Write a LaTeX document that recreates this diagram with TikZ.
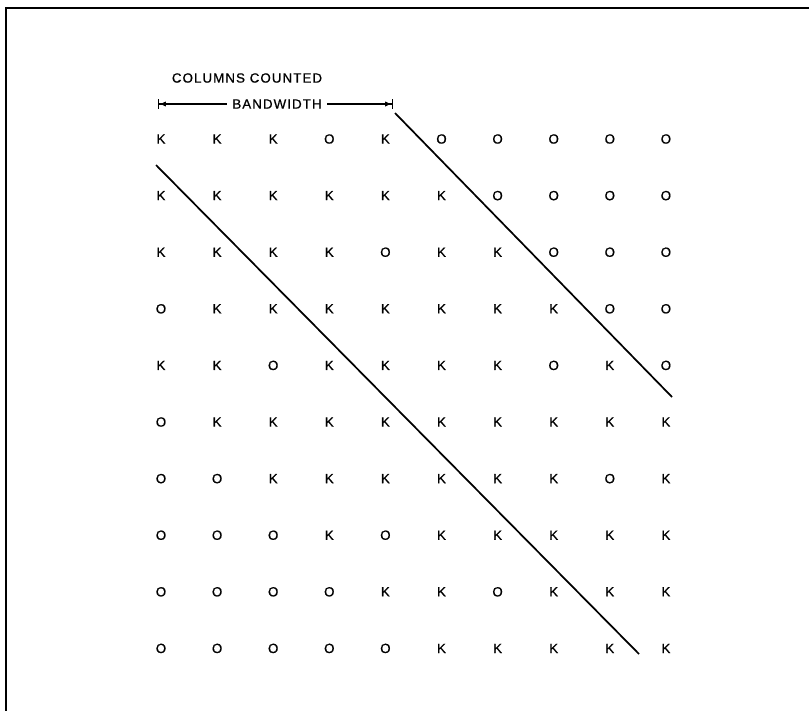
\documentclass[tikz,border=0pt]{standalone}
\usepackage{fontspec}
\setmainfont{Liberation Sans}
\usetikzlibrary{arrows.meta}
\begin{document}
\begin{tikzpicture}[x=0.75pt,y=-0.75pt,
  cell/.style={font=\fontsize{10}{12}\selectfont\addfontfeature{FakeBold=0.8}, inner sep=0pt, anchor=center},
  hdr/.style={font=\fontsize{10}{12}\selectfont\addfontfeature{LetterSpace=8,FakeBold=0.8}, inner ysep=0pt, inner xsep=4pt},
  diag/.style={line width=1.3pt},
  frame/.style={line width=1.1pt},
  dim/.style={line width=0.9pt}]
\useasboundingbox (0,0) rectangle (809,711);
\draw[frame] (809,8) -- (6,8) -- (6,711);
% header
\node[hdr] (cc) at (247,78) {COLUMNS COUNTED};
\node[hdr] (bw) at (277,104) {BANDWIDTH};
\coordinate (bl) at (158,104);
\coordinate (br) at (393,104);
\draw[dim, {Bar[width=7pt]Latex[length=5pt,width=4pt]}-] (bl) -- (bw.west);
\draw[dim, -{Latex[length=5pt,width=4pt]Bar[width=7pt]}] (bw.east) -- (br);
% grid
\foreach \row [count=\r] in {
  {K,K,K,O,K,O,O,O,O,O},
  {K,K,K,K,K,K,O,O,O,O},
  {K,K,K,K,O,K,K,O,O,O},
  {O,K,K,K,K,K,K,K,O,O},
  {K,K,O,K,K,K,K,O,K,O},
  {O,K,K,K,K,K,K,K,K,K},
  {O,O,K,K,K,K,K,K,O,K},
  {O,O,O,K,O,K,K,K,K,K},
  {O,O,O,O,K,K,O,K,K,K},
  {O,O,O,O,O,K,K,K,K,K}} {
  \foreach \v [count=\c] in \row {
    \node[cell] (n-\r-\c) at ({161+56.1*(\c-1)},{139+56.6*(\r-1)}) {\v};
  }
}
% diagonals
\coordinate (d1s) at (156,165);
\coordinate (d1e) at (639,654);
\coordinate (d2s) at (395,113);
\coordinate (d2e) at (672,397);
\draw[diag] (d1s) -- (d1e);
\draw[diag] (d2s) -- (d2e);
\end{tikzpicture}
\end{document}
